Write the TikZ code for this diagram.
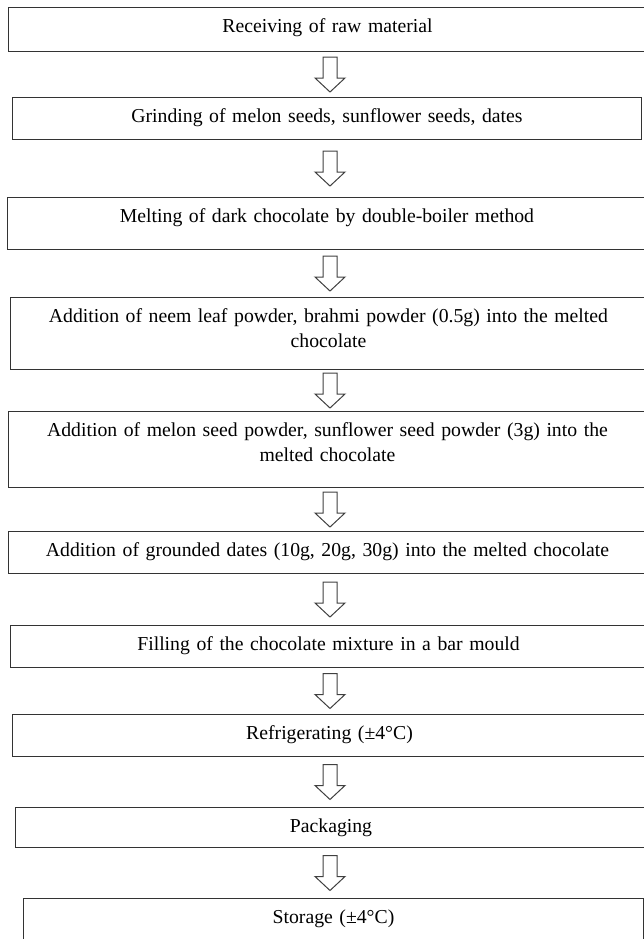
\documentclass[tikz,border=0pt]{standalone}
\usepackage{fontspec}
\setmainfont{Liberation Serif}
\usetikzlibrary{calc}
\tikzset{
  stepbox/.style={draw=black!80, line width=1bp, fill=white, anchor=north west,
    inner sep=0pt, align=center, font=\fontsize{19.8}{25}\selectfont, text height=25bp},
  blockarrow/.style={draw=black!75, line width=1bp, fill=white, line join=miter}
}

\begin{document}
\begin{tikzpicture}[x=1bp,y=1bp]
\useasboundingbox (0,0) rectangle (644,-939);

\node[stepbox, text width=638bp, text depth=19bp] (s1) at (8,-7)
  {Receiving of raw material};
\node[stepbox, text width=629bp, text depth=17bp] (s2) at (12,-97)
  {Grinding of melon seeds, sunflower seeds, dates};
\node[stepbox, text width=639bp, text depth=27bp] (s3) at (7,-197)
  {Melting of dark chocolate by double-boiler method};
\node[stepbox, text width=636bp, text depth=47bp] (s4) at (10,-297)
  {Addition of neem leaf powder, brahmi powder (0.5g) into the melted\\chocolate};
\node[stepbox, text width=638bp, text depth=51bp] (s5) at (8,-411)
  {Addition of melon seed powder, sunflower seed powder (3g) into the\\melted chocolate};
\node[stepbox, text width=638bp, text depth=17bp] (s6) at (8,-531)
  {Addition of grounded dates (10g, 20g, 30g) into the melted chocolate};
\node[stepbox, text width=636bp, text depth=17bp] (s7) at (10,-625)
  {Filling of the chocolate mixture in a bar mould};
\node[stepbox, text width=634bp, text depth=17bp] (s8) at (12,-714)
  {Refrigerating (±4°C)};
\node[stepbox, text width=631bp, text depth=15bp] (s9) at (15,-807)
  {Packaging};
\node[stepbox, text width=620bp, text depth=40bp] (s10) at (23,-898)
  {Storage (±4°C)};

% hollow block arrows between the steps
\coordinate (ax) at (330,0);
\foreach \a/\b in {s1/s2,s2/s3,s3/s4,s4/s5,s5/s6,s6/s7,s7/s8,s8/s9,s9/s10}{
  \path ($(\a.south)!.5!(\b.north)$) coordinate (m);
  \draw[blockarrow] (ax |- m) ++(-7,17.5) -- ++(0,-21) -- ++(-8,0) -- ++(15,-14)
    -- ++(15,14) -- ++(-8,0) -- ++(0,21) -- cycle;
}
\end{tikzpicture}
\end{document}
